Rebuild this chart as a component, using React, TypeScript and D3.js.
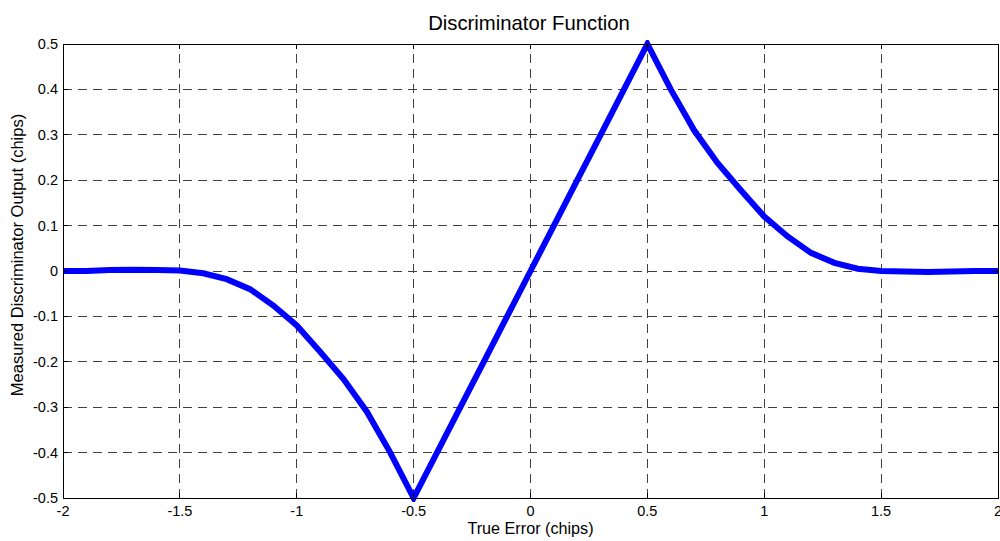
import React from "react";
import * as d3 from "d3";

// Discriminator output sampled every 0.1 chips of true error
const errorChips = [
  -2.0, -1.9, -1.8, -1.7, -1.6, -1.5, -1.4, -1.3, -1.2, -1.1, -1.0,
  -0.9, -0.8, -0.7, -0.6, -0.5, -0.4, -0.3, -0.2, -0.1, 0.0,
  0.1, 0.2, 0.3, 0.4, 0.5, 0.6, 0.7, 0.8, 0.9, 1.0,
  1.1, 1.2, 1.3, 1.4, 1.5, 1.6, 1.7, 1.8, 1.9, 2.0,
];
const discriminatorOutput = [
  0.0, 0.0, 0.002, 0.003, 0.002, 0.001, -0.005, -0.018, -0.04, -0.076, -0.12,
  -0.178, -0.238, -0.31, -0.4, -0.5, -0.4, -0.3, -0.2, -0.1, 0.0,
  0.1, 0.2, 0.3, 0.4, 0.5, 0.4, 0.31, 0.238, 0.178, 0.12,
  0.076, 0.04, 0.018, 0.005, 0.0, -0.001, -0.002, -0.001, 0.0, 0.0,
];
const xTicks = [-2, -1.5, -1, -0.5, 0, 0.5, 1, 1.5, 2];
const yTicks = [-0.5, -0.4, -0.3, -0.2, -0.1, 0, 0.1, 0.2, 0.3, 0.4, 0.5];

const W = 1000;
const H = 541;
const M = { left: 63, right: 2, top: 44, bottom: 43 };
const FONT = "Liberation Sans, Arial, sans-serif";

export default function App() {
  const x = d3.scaleLinear().domain([-2, 2]).range([M.left, W - M.right]);
  const y = d3.scaleLinear().domain([-0.5, 0.5]).range([H - M.bottom, M.top]);
  const [x0, x1] = x.range();
  const [y0, y1] = y.range();

  const pts: [number, number][] = errorChips.map((e, i) => [e, discriminatorOutput[i]]);
  const line = d3
    .line<[number, number]>()
    .x((d) => x(d[0]))
    .y((d) => y(d[1]));

  const fmt = (v: number) => String(Math.round(v * 10) / 10);
  const tickLen = 5;

  return (
    <svg
      width={W}
      height={H}
      style={{ position: "absolute", left: 0, top: 0, background: "#fff" }}
      fontFamily={FONT}
    >
      <rect x={0} y={0} width={W} height={H} fill="#fff" />
      <defs>
        <clipPath id="plot">
          <rect x={x0} y={y1 - 4} width={x1 - x0} height={y0 - y1 + 8} />
        </clipPath>
      </defs>

      {/* grid */}
      <g stroke="#404040" strokeWidth={1} strokeDasharray="9,6" shapeRendering="crispEdges">
        {xTicks.slice(1, -1).map((t) => (
          <line key={"gx" + t} x1={x(t)} x2={x(t)} y1={y0} y2={y1} />
        ))}
        {yTicks.slice(1, -1).map((t) => (
          <line key={"gy" + t} x1={x0} x2={x1} y1={y(t)} y2={y(t)} />
        ))}
      </g>

      {/* curve */}
      <path
        d={line(pts) ?? ""}
        fill="none"
        stroke="#0000ff"
        strokeWidth={6}
        strokeLinejoin="miter"
        clipPath="url(#plot)"
      />

      {/* box and ticks */}
      <g stroke="#000" strokeWidth={1} shapeRendering="crispEdges">
        <rect x={x0} y={y1} width={x1 - x0} height={y0 - y1} fill="none" />
        {xTicks.map((t) => (
          <g key={"tx" + t}>
            <line x1={x(t)} x2={x(t)} y1={y0} y2={y0 - tickLen} />
            <line x1={x(t)} x2={x(t)} y1={y1} y2={y1 + tickLen} />
          </g>
        ))}
        {yTicks.map((t) => (
          <g key={"ty" + t}>
            <line x1={x0} x2={x0 + tickLen} y1={y(t)} y2={y(t)} />
            <line x1={x1} x2={x1 - tickLen} y1={y(t)} y2={y(t)} />
          </g>
        ))}
      </g>

      {/* tick labels */}
      <g fontSize={14.5} fill="#000">
        {xTicks.map((t) => (
          <text key={"lx" + t} x={x(t)} y={515.5} textAnchor="middle">
            {fmt(t)}
          </text>
        ))}
        {yTicks.map((t) => (
          <text key={"ly" + t} x={x0 - 5} y={y(t) + 5} textAnchor="end">
            {fmt(t)}
          </text>
        ))}
      </g>

      {/* title and axis labels */}
      <text x={529} y={30} textAnchor="middle" fontSize={20.3}>
        Discriminator Function
      </text>
      <text x={(x0 + x1) / 2} y={534} textAnchor="middle" fontSize={16.2}>
        True Error (chips)
      </text>
      <text
        transform={`translate(23, 255) rotate(-90)`}
        textAnchor="middle"
        fontSize={16.5}
      >
        Measured Discriminator Output (chips)
      </text>
    </svg>
  );
}
